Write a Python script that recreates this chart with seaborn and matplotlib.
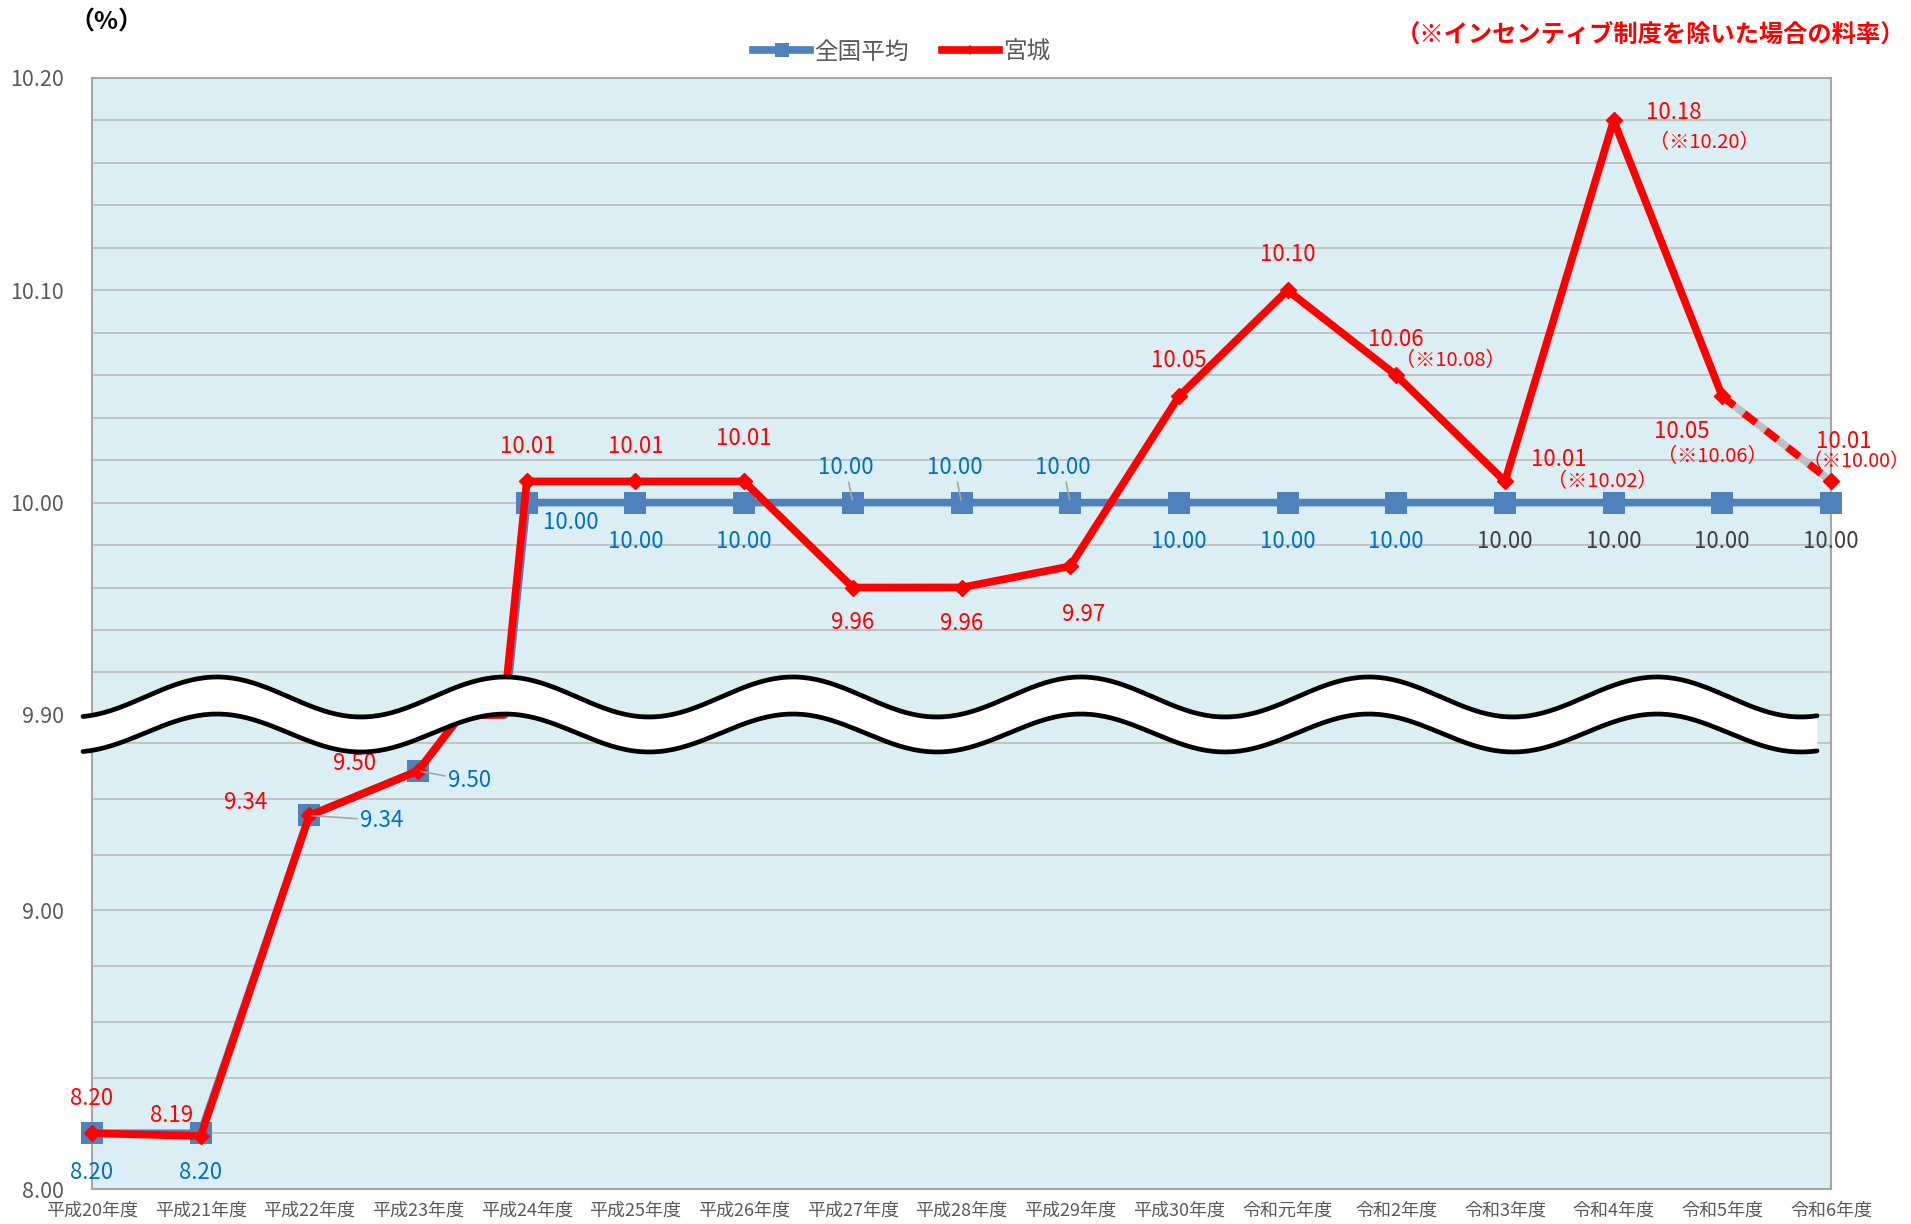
import numpy as np
import pandas as pd
import matplotlib
matplotlib.use("Agg")
import matplotlib.pyplot as plt
import seaborn as sns
from matplotlib.lines import Line2D
from matplotlib.transforms import Transform
from matplotlib.path import Path

# data
years = ["平成20年度", "平成21年度", "平成22年度", "平成23年度", "平成24年度",
         "平成25年度", "平成26年度", "平成27年度", "平成28年度", "平成29年度",
         "平成30年度", "令和元年度", "令和2年度", "令和3年度", "令和4年度",
         "令和5年度", "令和6年度"]
national = [8.20, 8.20, 9.34, 9.50, 10.00, 10.00, 10.00, 10.00, 10.00,
            10.00, 10.00, 10.00, 10.00, 10.00, 10.00, 10.00, 10.00]
miyagi = [8.20, 8.19, 9.34, 9.50, 10.01, 10.01, 10.01, 9.96, 9.96,
          9.97, 10.05, 10.10, 10.06, 10.01, 10.18, 10.05, 10.01]
# rates without the incentive scheme (※)
note_idx = [12, 13, 14, 15, 16]
note_vals = [10.08, 10.02, 10.20, 10.06, 10.00]

BLUE = "#4F81BD"
RED = "#FF0000"
LBLUE = "#0070C0"
DGRAY = "#404040"
TXT = "#595959"

plt.rcParams["font.family"] = ["Noto Sans CJK JP", "DejaVu Sans"]

df = pd.DataFrame({"x": np.arange(len(years)), "national": national, "miyagi": miyagi})

fig = plt.figure(figsize=(19.11, 12.24), dpi=100)
ax = fig.add_axes([92 / 1911, 35 / 1224, 1739 / 1911, 1111 / 1224])
ax.set_facecolor("#DBEEF4")

# broken y axis: 8.0-9.7 compressed, 9.9-10.2 stretched
brk_v = [7.0, 9.70, 9.90, 10.20, 11.0]
brk_h = [-0.2509, 0.42653, 0.42673, 1.0, 2.5287]


def fwd(v):
    return np.interp(v, brk_v, brk_h)


def inv(h):
    return np.interp(h, brk_h, brk_v)


class DataCurve(Transform):
    # transData, but each segment is split before scaling so that a
    # segment crossing the axis break bends the same way as the original
    input_dims = output_dims = 2

    def __init__(self, ax, steps=200):
        super().__init__()
        self._ax = ax
        self._steps = steps

    def transform_non_affine(self, values):
        return self._ax.transData.transform(values)

    def transform_path_non_affine(self, path):
        p = path.interpolated(self._steps)
        return Path(self.transform_non_affine(p.vertices), p.codes)


ax.set_yscale("function", functions=(fwd, inv))

# lines
curve = DataCurve(ax)
sns.lineplot(data=df, x="x", y="national", ax=ax, color=BLUE, lw=5.5,
             zorder=3, clip_on=False, transform=curve)
ax.plot(df["x"], df["national"], linestyle="none", marker="s", markersize=15.5,
        mew=0, color=BLUE, zorder=3, clip_on=False)
sns.lineplot(data=df.iloc[:16], x="x", y="miyagi", ax=ax, color=RED, lw=5.5,
             zorder=4, clip_on=False, transform=curve)
ax.plot(df["x"].iloc[15:], df["miyagi"].iloc[15:], color=RED, lw=5.5,
        linestyle=(0, (2.0, 1.6)), gapcolor="#BFBFBF", zorder=4, clip_on=False)
ax.plot(df["x"], df["miyagi"], linestyle="none", marker="D", markersize=8.5,
        color=RED, mec=RED, mew=1, zorder=5, clip_on=False)

ax.set_ylim(8.0, 10.2)
ax.set_xlim(0, len(years) - 1)
major = [8.0, 9.0, 9.9, 10.0, 10.1, 10.2]
ax.set_yticks(major)
ax.set_yticklabels([f"{t:.2f}" for t in major])
minor = [8.2, 8.4, 8.6, 8.8, 9.2, 9.4, 9.6] + list(np.round(np.arange(9.92, 10.2, 0.02), 2))
ax.set_yticks(minor, minor=True)
ax.set_xticks(df["x"])
ax.set_xticklabels(years)
ax.grid(which="both", axis="y", color="#BFBFBF", lw=1.3, zorder=0)
ax.set_axisbelow(True)
ax.tick_params(axis="both", which="both", length=0)
ax.tick_params(axis="y", labelsize=15.5, labelcolor=TXT, pad=20)
ax.tick_params(axis="x", labelsize=13, labelcolor=TXT, pad=9)
for s in ax.spines.values():
    s.set_color("#A6A6A6")
    s.set_linewidth(1.5)
ax.set_xlabel("")
ax.set_ylabel("")

# data labels, Miyagi
red_off = [(0, 25), (-21, 15), (-46, 9), (-46, 5), (1, 25), (0, 25), (0, 31),
           (0, -25), (0, -26), (10, -35), (0, 26), (0, 26), (0, 26), (39, 15.5),
           (43, 6), (-29, -25), (9, 29)]
for i, v in enumerate(miyagi):
    ax.annotate(f"{v:.2f}", (i, v), xytext=red_off[i], textcoords="offset points",
                ha="center", va="center", fontsize=16, color=RED, zorder=6)
note_off = [(39, 10.5), (70, 0), (65, -16), (-7, -43), (18, 14)]
note_fs = [14.5, 14.5, 14.5, 14.5, 14]
for k, i in enumerate(note_idx):
    ax.annotate(f"（※{note_vals[k]:.2f}）", (i, miyagi[i]), xytext=note_off[k],
                textcoords="offset points", ha="center", va="center",
                fontsize=note_fs[k], color=RED, zorder=6)

# data labels, national average
blue_off = [(0, -28), (0, -28), (52, -3.5), (37, -7), (32, -14), (0, -28), (0, -28),
            (-5, 25), (-5, 25), (-5, 25), (0, -28), (0, -28), (0, -28), (0, -28),
            (0, -28), (0, -28), (0, -28)]
leader = [2, 3, 7, 8, 9]
for i, v in enumerate(national):
    col = DGRAY if i >= 13 else LBLUE
    arrow = dict(arrowstyle="-", color="#A6A6A6", lw=1.2, shrinkA=0, shrinkB=2) if i in leader else None
    ax.annotate(f"{v:.2f}", (i, v), xytext=blue_off[i], textcoords="offset points",
                ha="center", va="center", fontsize=16, color=col, zorder=6,
                arrowprops=arrow)

# wavy break band (pixel positions in figure converted to axes fraction)
wx = np.linspace(83, 1817, 500)
yu = 697 - 20 * np.cos(2 * np.pi * (wx - 217) / 288)
yl = 733 - 19 * np.cos(2 * np.pi * (wx - 217) / 288)
axx = (wx - 92) / 1739
ax.fill_between(axx, (1189 - yl) / 1111, (1189 - yu) / 1111, transform=ax.transAxes,
                color="white", lw=0, zorder=7, clip_on=False)
for yy in (yu, yl):
    ax.plot(axx, (1189 - yy) / 1111, transform=ax.transAxes, color="black", lw=3.4,
            solid_capstyle="round", zorder=8, clip_on=False)

# legend
handles = [Line2D([], [], color=BLUE, lw=5.5, marker="s", markersize=10, mew=0),
           Line2D([], [], color=RED, lw=5.5, marker="D", markersize=5, mew=0)]
leg = fig.legend(handles, ["全国平均", "宮城"], loc="center", bbox_to_anchor=(0.472, 0.9575),
                 ncol=2, frameon=False, fontsize=17, handlelength=2.4, handletextpad=0.2,
                 columnspacing=1.4)
for t in leg.get_texts():
    t.set_color(TXT)

fig.text(69 / 1911, 1 - 23 / 1224, "（%）", fontsize=18, fontweight="bold",
         ha="left", va="center", color="black")
fig.text(1905 / 1911, 1 - 35 / 1224, "（※インセンティブ制度を除いた場合の料率）", fontsize=17.5,
         fontweight="bold", ha="right", va="center", color=RED)

fig.savefig("out.png", dpi=100)
